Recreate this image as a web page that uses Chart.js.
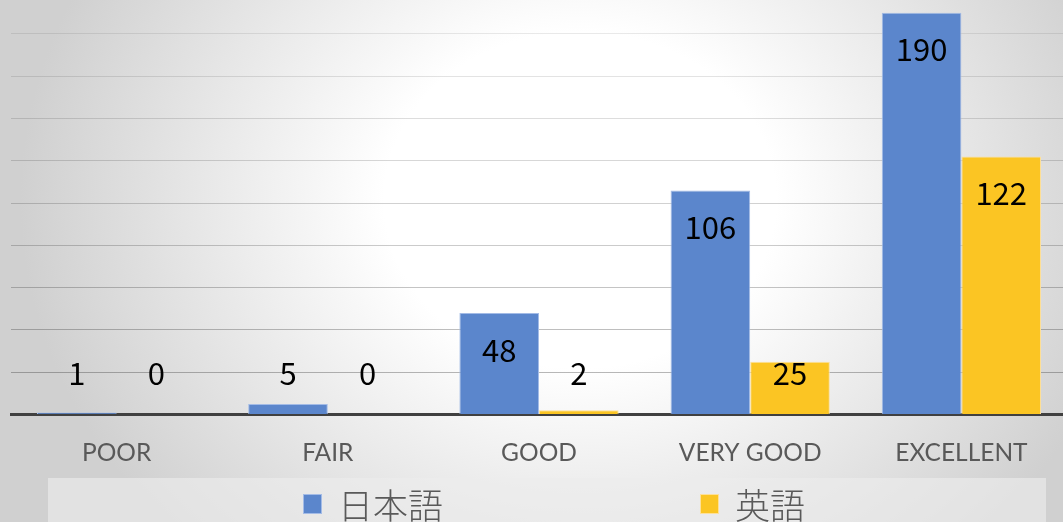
<!DOCTYPE html>
<html>
<head>
<meta charset="utf-8">
<script src="https://cdn.jsdelivr.net/npm/chart.js@4/dist/chart.umd.min.js"></script>
<style>
  html, body {
    margin: 0;
    padding: 0;
  }
  body {
    width: 1063px;
    height: 522px;
    overflow: hidden;
    position: relative;
    background: radial-gradient(ellipse 560px 480px at 580px 200px, #ffffff 0%, #ffffff 35%, #d0d0d0 100%);
  }
  #wrap {
    position: absolute;
    left: 0;
    top: 0;
  }
  #legend {
    position: absolute;
    left: 48px;
    top: 478px;
    width: 998px;
    height: 60px;
    background: rgba(237, 237, 237, 0.64);
  }
  .item {
    position: absolute;
    top: 6px;
    display: flex;
    align-items: center;
    font-family: "Noto Sans CJK JP", sans-serif;
    font-weight: 300;
    font-size: 35px;
    color: #595959;
    line-height: 40px;
  }
  .swatch {
    width: 19px;
    height: 20px;
    margin-right: 16px;
    box-sizing: border-box;
  }
</style>
</head>
<body>
<div id="wrap"><canvas id="ratingChart" width="1067" height="492"></canvas></div>
<div id="legend"></div>

<script>
// rating buckets and response counts per language
const categories = ["POOR", "FAIR", "GOOD", "VERY GOOD", "EXCELLENT"]
const seriesNames = ["日本語", "英語"]
const japaneseCounts = [1, 5, 48, 106, 190]
const englishCounts = [0, 0, 2, 25, 122]
const seriesColors = ["#5b86cc", "#fbc523"]
const seriesBorders = ["#a3bbe6", "#fde09a"]
const legendLeft = [255, 652]

// value labels sit inside the top of each bar, but never lower than a fixed line above the axis
const valueLabels = {
  id: "valueLabels",
  afterDraw(chart) {
    const ctx = chart.ctx
    const base = chart.scales.y.getPixelForValue(0)
    ctx.save()
    ctx.font = '31px "Noto Sans CJK JP"'
    ctx.fillStyle = "#000000"
    ctx.textAlign = "center"
    ctx.textBaseline = "middle"
    chart.data.datasets.forEach((ds, i) => {
      chart.getDatasetMeta(i).data.forEach((bar, j) => {
        const y = Math.min(bar.y + 37, base - 41)
        ctx.fillText(String(ds.data[j]), bar.x, y)
      })
    })
    ctx.restore()
  },
}

const ctx = document.getElementById("ratingChart").getContext("2d")
const chart = new Chart(ctx, {
  type: "bar",
  data: {
    labels: categories,
    datasets: [
      {
        label: seriesNames[0],
        data: japaneseCounts,
        backgroundColor: seriesColors[0],
        borderColor: seriesBorders[0],
        borderWidth: 1,
      },
      {
        label: seriesNames[1],
        data: englishCounts,
        backgroundColor: seriesColors[1],
        borderColor: seriesBorders[1],
        borderWidth: 1,
      },
    ],
  },
  options: {
    responsive: false,
    animation: false,
    devicePixelRatio: 1,
    categoryPercentage: 0.754,
    barPercentage: 1,
    layout: { padding: { left: 11, top: 0, right: 0, bottom: 0 } },
    plugins: {
      legend: { display: false },
      tooltip: { enabled: false },
    },
    scales: {
      x: {
        z: 1,
        grid: { display: true, drawOnChartArea: false, drawTicks: false },
        border: { display: true, color: "#404040", width: 3 },
        ticks: {
          color: "#595959",
          padding: 24,
          font: { family: "Lato", size: 24.5 },
        },
      },
      y: {
        z: 1,
        min: 0,
        max: 196,
        border: { display: false },
        grid: {
          drawTicks: false,
          lineWidth: 1,
          // lines get fainter toward the top of the plot
          color: (c) => {
            const v = c.tick.value
            if (v === 0) return "rgba(0,0,0,0)"
            const a = 0.36 - (v / 180) * 0.26
            return `rgba(40,40,40,${a.toFixed(3)})`
          },
        },
        ticks: { display: false, stepSize: 20, includeBounds: false },
      },
    },
  },
  plugins: [valueLabels],
})

// legend row under the plot
const legend = document.getElementById("legend")
seriesNames.forEach((name, i) => {
  const item = document.createElement("div")
  item.className = "item"
  item.style.left = legendLeft[i] + "px"
  const sw = document.createElement("span")
  sw.className = "swatch"
  sw.style.background = seriesColors[i]
  sw.style.border = "1px solid " + seriesBorders[i]
  const label = document.createElement("span")
  label.textContent = name
  item.appendChild(sw)
  item.appendChild(label)
  legend.appendChild(item)
})
</script>
</body>
</html>
